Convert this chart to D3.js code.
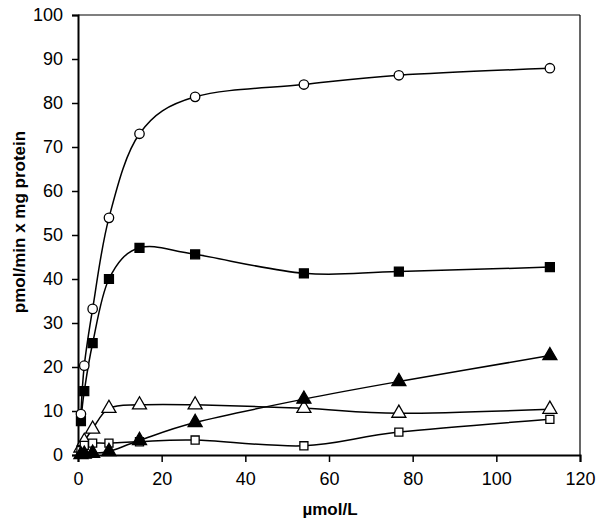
<!DOCTYPE html>
<html>
<head>
<meta charset="utf-8">
<title>pmol/min x mg protein</title>
<script src="https://d3js.org/d3.v7.min.js"></script>
<style>
  body { margin: 0; background: #fff; }
  text { font-family: "Liberation Sans", Arial, sans-serif; fill: #000; }
</style>
</head>
<body>
<svg width="600" height="523"></svg>
<script>
// concentrations (µmol/L)
const conc = [0.7, 1.5, 3.5, 7.4, 14.7, 28, 54, 76.7, 112.8];

// series values (pmol/min x mg protein)
const openCircle   = [9.3, 20.3, 33.2, 53.9, 73, 81.4, 84.2, 86.3, 87.9];
const filledSquare = [7.7, 14.5, 25.4, 40.0, 47.1, 45.6, 41.3, 41.7, 42.7];
const openTriangle = [1.6, 3.1, 5.9, 10.6, 11.4, 11.4, 10.6, 9.5, 10.4];
const filledTri    = [0.1, 0.2, 0.4, 0.8, 3.3, 7.4, 12.7, 16.7, 22.6];
const openSquare   = [1.0, 2.2, 2.7, 2.7, 3.0, 3.4, 2.1, 5.2, 8.1];

const xTicks = [0, 20, 40, 60, 80, 100, 120];
const yTicks = [0, 10, 20, 30, 40, 50, 60, 70, 80, 90, 100];

const svg = d3.select("svg");
const x = d3.scaleLinear().domain([0, 120]).range([78, 580]);
const y = d3.scaleLinear().domain([0, 100]).range([455, 15]);

// frame (top and right)
svg.append("line").attr("x1", 78).attr("x2", 580).attr("y1", 15).attr("y2", 15)
  .attr("stroke", "#000").attr("stroke-width", 1.2);
svg.append("line").attr("x1", 580).attr("x2", 580).attr("y1", 15).attr("y2", 455)
  .attr("stroke", "#000").attr("stroke-width", 1.2);

// axes
const gx = svg.append("g").attr("transform", "translate(0,455)")
  .call(d3.axisBottom(x).tickValues(xTicks).tickSize(7).tickPadding(10));
const gy = svg.append("g").attr("transform", "translate(78,0)")
  .call(d3.axisLeft(y).tickValues(yTicks).tickSize(6).tickPadding(9));
[gx, gy].forEach(g => {
  g.select(".domain").attr("stroke-width", 2);
  g.selectAll(".tick line").attr("stroke-width", 1.5);
  g.selectAll("text").style("font-size", "18px")
    .style("font-family", "'Liberation Sans', Arial, sans-serif");
});

// axis titles
svg.append("text").attr("x", 330).attr("y", 515).attr("text-anchor", "middle")
  .style("font-size", "17px").style("font-weight", "bold").text("µmol/L");
svg.append("text").attr("transform", "translate(25,222) rotate(-90)")
  .attr("text-anchor", "middle")
  .style("font-size", "17px").style("font-weight", "bold")
  .text("pmol/min x mg protein");

const line = d3.line()
  .x(d => x(d[0])).y(d => y(d[1]))
  .curve(d3.curveCardinal.tension(0));

const series = [
  { vals: openTriangle, shape: d3.symbolTriangle, size: 85, fill: "#fff" },
  { vals: openSquare,   shape: d3.symbolSquare,   size: 65, fill: "#fff" },
  { vals: filledTri,    shape: d3.symbolTriangle, size: 85, fill: "#000" },
  { vals: filledSquare, shape: d3.symbolSquare,   size: 80, fill: "#000" },
  { vals: openCircle,   shape: d3.symbolCircle,   size: 70, fill: "#fff" }
];

series.forEach(s => {
  const pts = conc.map((c, i) => [c, s.vals[i]]);
  svg.append("path").datum(pts)
    .attr("fill", "none").attr("stroke", "#000").attr("stroke-width", 1.5)
    .attr("d", line);
});

series.forEach(s => {
  const pts = conc.map((c, i) => [c, s.vals[i]]);
  svg.append("g").selectAll("path").data(pts).join("path")
    .attr("transform", d => `translate(${x(d[0])},${y(d[1])})`)
    .attr("d", d3.symbol().type(s.shape).size(s.size))
    .attr("fill", s.fill).attr("stroke", "#000").attr("stroke-width", 1.3);
});
</script>
</body>
</html>
